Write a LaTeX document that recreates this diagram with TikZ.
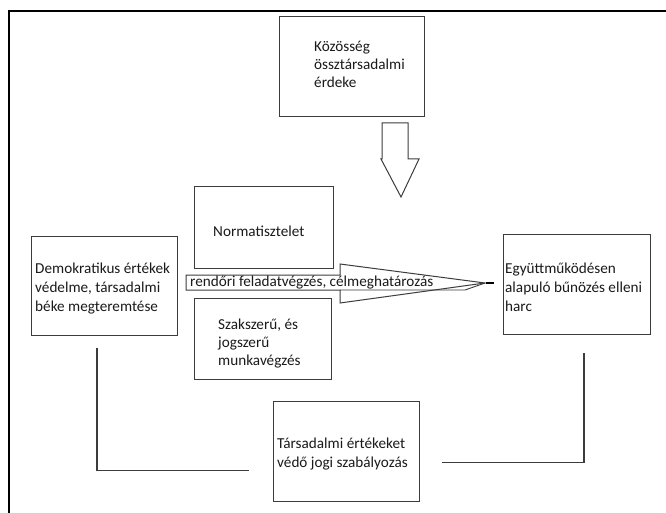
\documentclass[tikz,border=0pt]{standalone}
\usepackage{fontspec}
\setmainfont{Carlito}
\usetikzlibrary{calc}
\definecolor{linegray}{HTML}{3C3C3C}
\definecolor{txt}{HTML}{1A1A1A}
\begin{document}
\begin{tikzpicture}[x=1pt,y=-1pt,
  box/.style={draw=linegray, line width=1.2pt, rectangle, inner sep=0pt, anchor=north west},
  lbl/.style={inner sep=0pt, anchor=north west, align=left, text=txt, font=\fontsize{15.2}{19}\selectfont},
  lbltight/.style={lbl, font=\fontsize{15.2}{18}\selectfont},
  conn/.style={draw=linegray, line width=1.3pt},
  frame/.style={draw=black, line width=1.4pt},
  bigarrow/.style={draw=linegray, line width=1pt, fill=white, line join=miter},
]
\fill[white] (0,0) rectangle (666,513);
\useasboundingbox (0,0) rectangle (666,513);

% frame
\draw[frame] (9,513) -- (9,11) -- (666,11);

% boxes
\node[box, minimum width=145pt, minimum height=100pt] (top)  at (279,16)  {};
\node[box, minimum width=139pt, minimum height=82pt]  (norm) at (194,186) {};
\node[box, minimum width=137pt, minimum height=81pt]  (szak) at (194,298) {};
\node[box, minimum width=146pt, minimum height=99pt]  (demo) at (31,236)  {};
\node[box, minimum width=147pt, minimum height=100pt] (egy)  at (503,234) {};
\node[box, minimum width=146pt, minimum height=100pt] (tars) at (273,401) {};

% down arrow
\draw[bigarrow] (382,123) -- (408,123) -- (408,159) -- (419,159) -- (401,197) -- (381,159) -- (382,159) -- cycle;

% horizontal arrow
\draw[bigarrow] (186,275) -- (340,275) -- (340,264) -- (485,283) -- (340,303) -- (340,290) -- (186,290) -- cycle;
\draw[linegray, line width=0.9pt] (340,290) -- (465,290) -- (485,283);
\draw[black, line width=2pt] (486,283) -- (494,283);

% texts
\node[lbltight] (toptxt)  at (314,38)  {\rule{0pt}{13pt}Közösség\\össztársadalmi\\érdeke};
\node[lbl]      (normtxt) at (213,223) {\rule{0pt}{13pt}Normatisztelet};
\node[lbltight] (szaktxt) at (218,316) {\rule{0pt}{13pt}Szakszerű, és\\jogszerű\\munkavégzés};
\node[lbl]      (demotxt) at (35,260)  {\rule{0pt}{13pt}Demokratikus értékek\\védelme, társadalmi\\béke megteremtése};
\node[lbl]      (egytxt)  at (505,260) {\rule{0pt}{13pt}Együttműködésen\\alapuló bűnözés elleni\\harc};
\node[lbl]      (tarstxt) at (277,435) {\rule{0pt}{13pt}Társadalmi értékeket\\védő jogi szabályozás};
\node[lbl]      (rendtxt) at (190,273) {\rule{0pt}{13pt}rendőri feladatvégzés, célmeghatározás};

% connectors
\draw[conn] ($(demo.south west)+(66,12)$) |- ($(tars.west)+(-24,19)$);
\draw[conn] ($(egy.south west)+(81,18)$) |- ($(tars.east)+(22,11)$);
\end{tikzpicture}
\end{document}
